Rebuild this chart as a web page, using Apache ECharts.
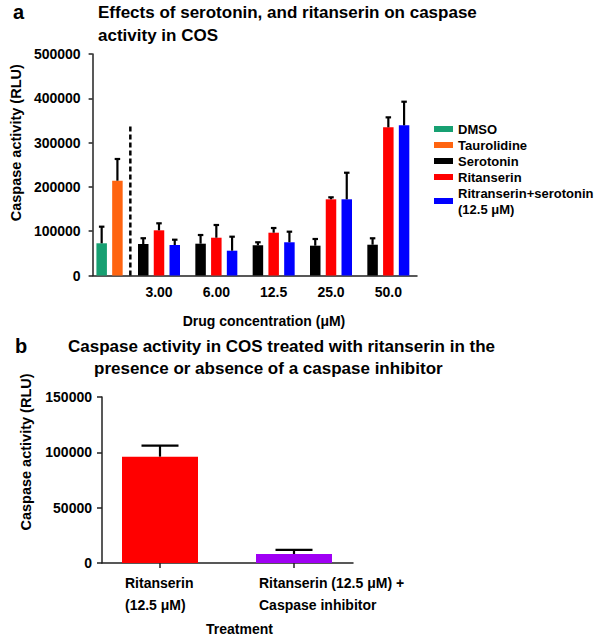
<!DOCTYPE html>
<html><head><meta charset="utf-8">
<script src="https://cdn.jsdelivr.net/npm/echarts@6/dist/echarts.min.js"></script>
<style>html,body{margin:0;padding:0;background:#fff}#c{width:600px;height:639px}</style>
</head><body><div id="c"></div>
<script>
// ---------- Data: chart a ----------
const concLabels = ['', '3.00', '6.00', '12.5', '25.0', '50.0'];
const dmso        = [72700, '-', '-', '-', '-', '-'];
const dmsoErr     = [37500, 0, 0, 0, 0, 0];
const taurolidine = [214000, '-', '-', '-', '-', '-'];
const tauroErr    = [49000, 0, 0, 0, 0, 0];
const serotonin   = ['-', 71100, 71800, 68200, 67300, 69500];
const seroErr     = [0, 13000, 19600, 6800, 15100, 14500];
const ritanserin  = ['-', 102000, 85300, 96600, 172000, 334500];
const ritaErr     = [0, 15800, 28700, 10600, 4500, 22500];
const ritaSero    = ['-', 68800, 56000, 75000, 172000, 339000];
const ritaSeroErr = [0, 12000, 31600, 23900, 60000, 53300];
const separatorTop = 338000;
const yTicksA = [0, 500000, 100000];   // min, max, interval

// ---------- Data: chart b ----------
const treatLabels = ['Ritanserin\n(12.5 μM)', 'Ritanserin (12.5 μM) +\nCaspase inhibitor'];
const treatValues = [96100, 8100];
const treatErr    = [9900, 3700];
const yTicksB = [0, 150000, 50000];

// ---------- Styles ----------
const FONT = '"Liberation Sans", Arial, Helvetica, sans-serif';
const AX = '#222';
const colors = { dmso:'#17a072', tauro:'#ff6410', sero:'#000000', rita:'#ff0000', ritaSero:'#0000ff' };
const treatColors = ['#ff0000', '#a000f4'];
const names = ['DMSO', 'Taurolidine', 'Serotonin', 'Ritanserin', 'Ritranserin+serotonin\n(12.5 μM)'];

const BW_A = 10.5, GAP_A = 0.5, PITCH_A = BW_A * (1 + GAP_A);

function errSeries(vals, errs, slotOffset, xi, yi, capW) {
  const data = [];
  vals.forEach((v, i) => { if (typeof v === 'number') data.push([i, v, errs[i]]); });
  return {
    type: 'custom', xAxisIndex: xi, yAxisIndex: yi, z: 5, silent: true,
    encode: { x: 0, y: 1 }, data,
    renderItem: (params, api) => {
      const x = api.value(0), y = api.value(1), e = api.value(2);
      const b = api.coord([x, y]);
      const t = api.coord([x, y + e]);
      const cx = b[0] + slotOffset;
      return { type: 'group', children: [
        { type: 'line', shape: { x1: cx, y1: b[1], x2: cx, y2: t[1] }, style: { stroke: '#000', lineWidth: 2.2 } },
        { type: 'line', shape: { x1: cx - capW / 2, y1: t[1], x2: cx + capW / 2, y2: t[1] }, style: { stroke: '#000', lineWidth: 2.2 } }
      ]};
    }
  };
}

function barA(name, data, stack, color) {
  return { name, type: 'bar', xAxisIndex: 0, yAxisIndex: 0, stack, data,
    barWidth: BW_A, barGap: (GAP_A * 100) + '%', itemStyle: { color }, silent: true };
}

const labelStyle = { fontFamily: FONT, fontWeight: 'bold', fontSize: 14, color: '#000' };
const plain = v => String(v);

const option = {
  animation: false,
  backgroundColor: '#fff',
  textStyle: { fontFamily: FONT },
  title: [
    { text: 'a', left: 13, top: 0, padding: 0, textStyle: { fontFamily: FONT, fontSize: 20, fontWeight: 'bold', lineHeight: 24, color: '#000' } },
    { text: 'Effects of serotonin, and ritanserin on caspase\nactivity in COS', left: 98, top: 0.5, padding: 0,
      textStyle: { fontFamily: FONT, fontSize: 17, fontWeight: 'bold', lineHeight: 23, color: '#000' } },
    { text: 'b', left: 15, top: 334, padding: 0, textStyle: { fontFamily: FONT, fontSize: 20, fontWeight: 'bold', lineHeight: 24, color: '#000' } },
    { text: 'Caspase activity in COS treated with ritanserin in the', left: 68, top: 335, padding: 0,
      textStyle: { fontFamily: FONT, fontSize: 17, fontWeight: 'bold', lineHeight: 23, color: '#000' } },
    { text: 'presence or absence of a caspase inhibitor', left: 94, top: 356.5, padding: 0,
      textStyle: { fontFamily: FONT, fontSize: 17, fontWeight: 'bold', lineHeight: 23, color: '#000' } }
  ],
  legend: {
    orient: 'vertical', left: 434, top: 121, padding: 0, itemGap: 0,
    itemWidth: 19, itemHeight: 6, icon: 'rect', selectedMode: false,
    data: names,
    textStyle: { fontFamily: FONT, fontWeight: 'bold', fontSize: 13, lineHeight: 16, color: '#000' }
  },
  grid: [
    { left: 73, right: 183, top: 54, bottom: 363.5 },
    { left: 85, right: 183, top: 54, bottom: 363.5 },
    { left: 93, right: 239, top: 397, bottom: 76 },
    { left: 102, right: 247, top: 397, bottom: 76 }
  ],
  xAxis: [
    { type: 'category', gridIndex: 0, data: concLabels,
      axisLine: { show: false }, axisTick: { show: false },
      axisLabel: Object.assign({ margin: 9.5, interval: 0 }, labelStyle),
      name: 'Drug concentration (μM)', nameLocation: 'middle', nameGap: 38,
      nameTextStyle: Object.assign({ padding: [0, 0, 0, 38] }, labelStyle) },
    { type: 'value', gridIndex: 1, min: 0, max: 1,
      axisLine: { show: true, lineStyle: { color: AX, width: 1.5 } },
      axisTick: { show: false }, axisLabel: { show: false }, splitLine: { show: false } },
    { type: 'category', gridIndex: 2, data: treatLabels,
      axisLine: { show: false },
      axisTick: { show: true, alignWithLabel: true, length: 5, lineStyle: { color: AX, width: 1.5 } },
      axisLabel: {
        margin: 9, interval: 0,
        formatter: v => v.split('\n').map(s => '{l|' + s + '}').join('\n'),
        rich: { l: Object.assign({ width: 70, align: 'left', lineHeight: 22 }, labelStyle) }
      },
      name: 'Treatment', nameLocation: 'middle', nameGap: 59,
      nameTextStyle: Object.assign({ padding: [0, 0, 0, 25] }, labelStyle) },
    { type: 'value', gridIndex: 3, min: 0, max: 1,
      axisLine: { show: true, lineStyle: { color: AX, width: 1.5 } },
      axisTick: { show: false }, axisLabel: { show: false }, splitLine: { show: false } }
  ],
  yAxis: [
    { type: 'value', gridIndex: 0, min: yTicksA[0], max: yTicksA[1], show: false },
    { type: 'value', gridIndex: 1, min: yTicksA[0], max: yTicksA[1], interval: yTicksA[2],
      axisLine: { show: true, lineStyle: { color: AX, width: 1.5 } },
      axisTick: { show: true, length: 4, lineStyle: { color: AX, width: 1.5 } },
      splitLine: { show: false },
      axisLabel: Object.assign({ margin: 12, formatter: plain }, labelStyle),
      name: 'Caspase activity (RLU)', nameLocation: 'middle', nameGap: 67,
      nameTextStyle: Object.assign({ padding: [0, 0, 0, 44] }, labelStyle, { fontSize: 14.5 }) },
    { type: 'value', gridIndex: 2, min: yTicksB[0], max: yTicksB[1], show: false },
    { type: 'value', gridIndex: 3, min: yTicksB[0], max: yTicksB[1], interval: yTicksB[2],
      axisLine: { show: true, lineStyle: { color: AX, width: 1.5 } },
      axisTick: { show: true, length: 5, lineStyle: { color: AX, width: 1.5 } },
      splitLine: { show: false },
      axisLabel: Object.assign({ margin: 10, formatter: plain }, labelStyle),
      name: 'Caspase activity (RLU)', nameLocation: 'middle', nameGap: 69,
      nameTextStyle: Object.assign({ padding: [0, 0, 0, 56] }, labelStyle, { fontSize: 14.5 }) }
  ],
  series: [
    barA(names[2], serotonin, 'left', colors.sero),
    barA(names[0], dmso, 'mid', colors.dmso),
    barA(names[1], taurolidine, 'right', colors.tauro),
    barA(names[3], ritanserin, 'mid', colors.rita),
    barA(names[4], ritaSero, 'right', colors.ritaSero),
    errSeries(serotonin, seroErr, -PITCH_A, 0, 0, 5.5),
    errSeries(dmso, dmsoErr, 0, 0, 0, 5.5),
    errSeries(taurolidine, tauroErr, PITCH_A, 0, 0, 5.5),
    errSeries(ritanserin, ritaErr, 0, 0, 0, 5.5),
    errSeries(ritaSero, ritaSeroErr, PITCH_A, 0, 0, 5.5),
    { type: 'custom', xAxisIndex: 0, yAxisIndex: 0, silent: true, z: 4,
      encode: { x: 0, y: 1 }, data: [[0, separatorTop]],
      renderItem: (params, api) => {
        const band = api.size([1, 0])[0];
        const b = api.coord([api.value(0), 0]);
        const t = api.coord([api.value(0), api.value(1)]);
        const x = b[0] + band / 2;
        return { type: 'line', shape: { x1: x, y1: b[1], x2: x, y2: t[1] },
          style: { stroke: '#000', lineWidth: 2.5, lineDash: [5, 3] } };
      } },
    { type: 'bar', xAxisIndex: 2, yAxisIndex: 2, barWidth: 76, silent: true,
      data: treatValues.map((v, i) => ({ value: v, itemStyle: { color: treatColors[i] } })) },
    errSeries(treatValues, treatErr, 0, 2, 2, 37)
  ]
};

const chart = echarts.init(document.getElementById('c'), null, { renderer: 'svg' });
chart.setOption(option);
</script></body></html>
